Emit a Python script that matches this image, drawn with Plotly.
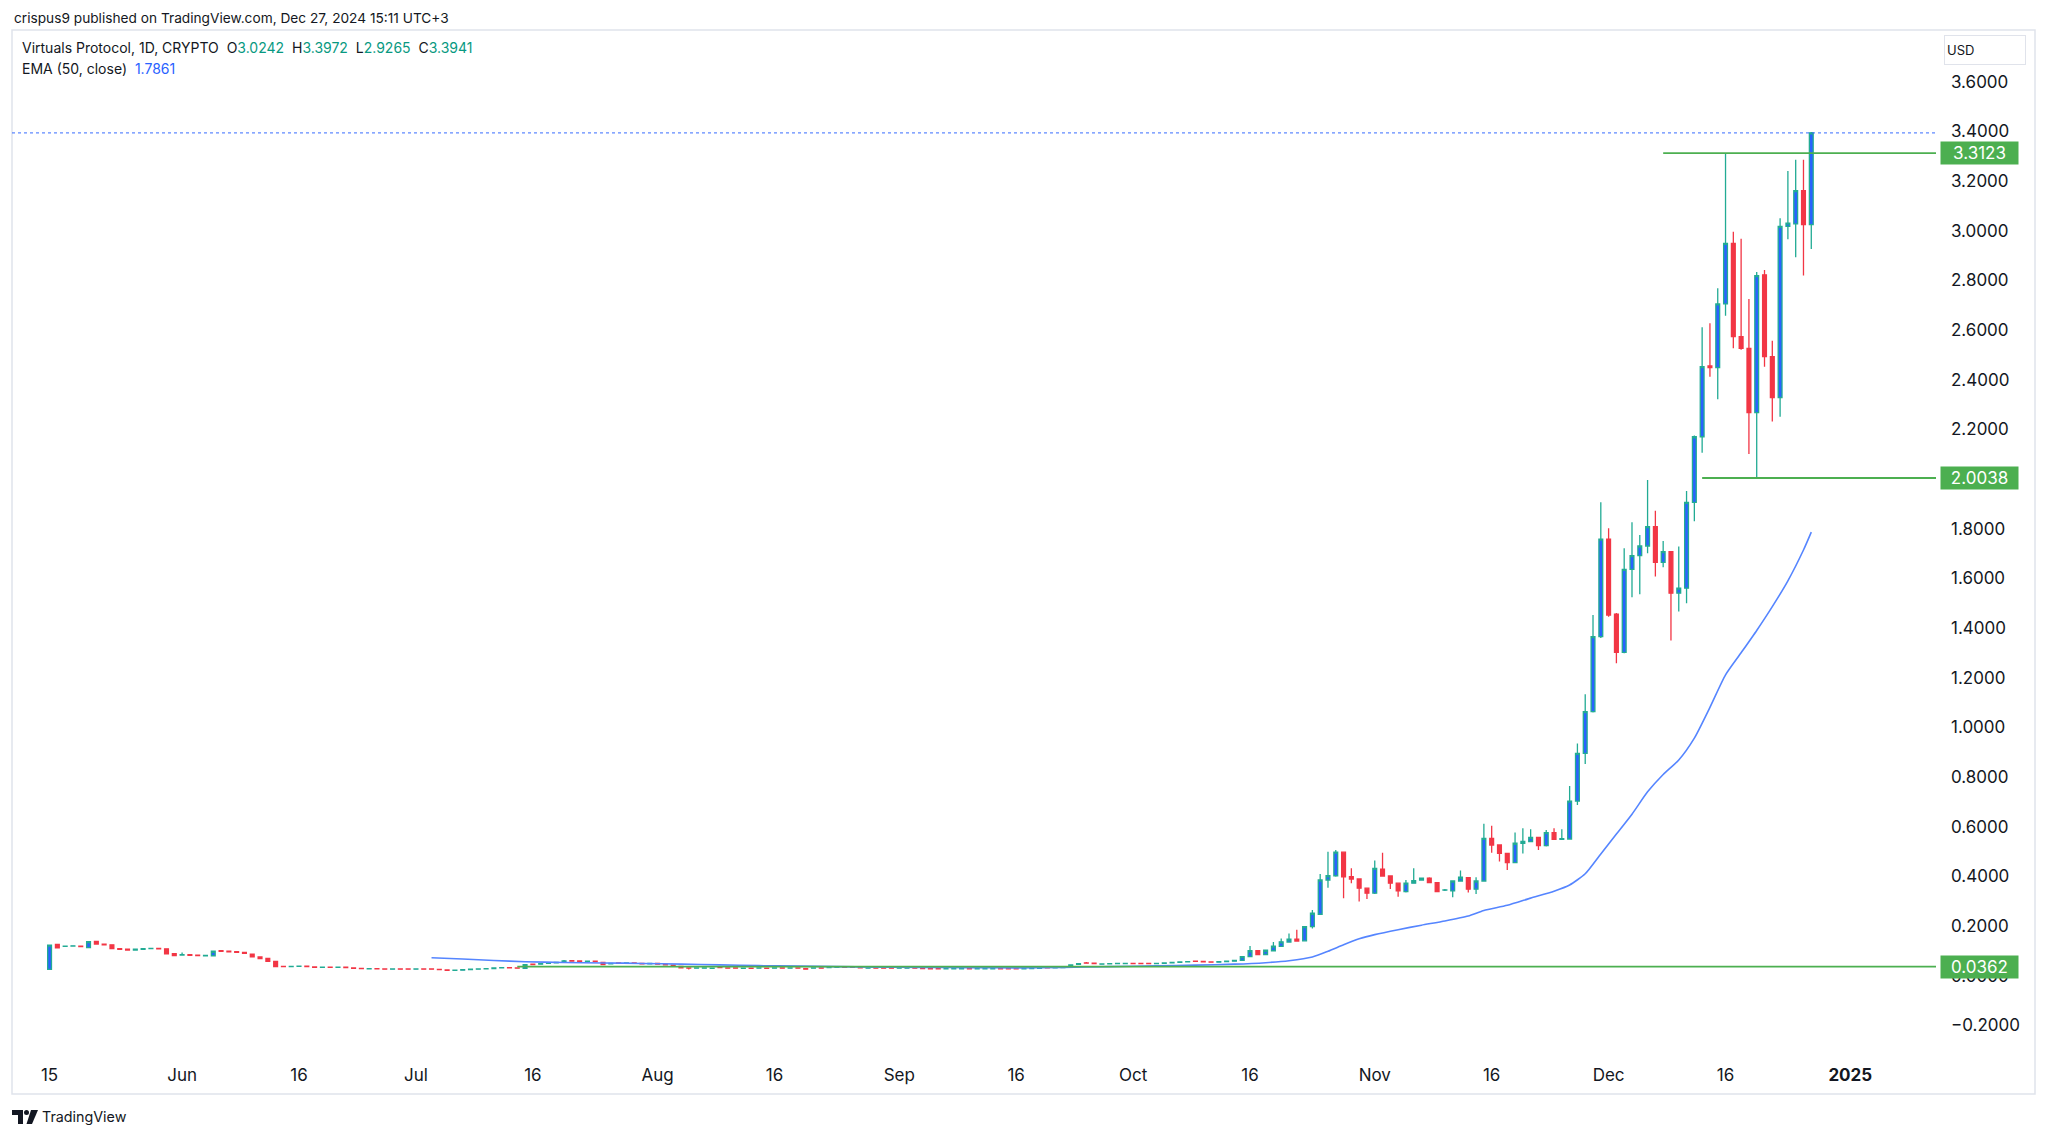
import pandas as pd
import plotly.graph_objects as go

W, H = 2048, 1136

# ---------------- data ----------------
start_date = "2024-05-15"

open_ = [
    .025, .126, .118, .119, .119, .113, .138, .127, .124, .109,
    .106, .103, .106, .109, .110, .108, .088, .083, .084, .082,
    .080, .080, .100, .098, .096, .093, .086, .075, .069, .057,
    .037, .036, .037, .038, .035, .033, .034, .033, .034, .031,
    .029, .027, .028, .027, .026, .027, .027, .026, .027, .027,
    .025, .023, .021, .022, .024, .026, .027, .028, .031, .032,
    .031, .029, .046, .046, .049, .051, .054, .060, .059, .057,
    .058, .053, .047, .051, .049, .051, .049, .047, .049, .046,
    .042, .037, .031, .030, .030, .029, .034, .031, .031, .029,
    .030, .030, .030, .030, .031, .030, .031, .028, .030, .031,
    .032, .033, .034, .034, .032, .030, .031, .031, .031, .030,
    .030, .031, .029, .028, .028, .027, .027, .027, .028, .027,
    .027, .027, .028, .028, .028, .027, .028, .029, .033, .031,
    .032, .035, .045, .051, .050, .046, .047, .048, .048, .049,
    .049, .049, .048, .049, .051, .053, .055, .058, .057, .055,
    .054, .056, .058, .061, .076, .100, .085, .100, .118, .135,
    .147, .140, .197, .247, .385, .402, .497, .398, .389, .352,
    .332, .429, .401, .372, .338, .372, .385, .392, .374, .344,
    .341, .381, .394, .348, .381, .553, .526, .492, .455, .533,
    .540, .557, .523, .576, .549, .550, .703, .895, 1.063, 1.365,
    1.758, 1.456, 1.302, 1.636, 1.691, 1.730, 1.808, 1.664, 1.707, 1.540,
    1.560, 1.906, 2.170, 2.455, 2.448, 2.705, 2.949, 2.573, 2.526, 2.267,
    2.822, 2.493, 2.328, 3.017, 3.027, 3.161, 3.0242,
]
high = [
    .124, .127, .119, .120, .120, .138, .140, .128, .125, .110,
    .107, .108, .110, .111, .111, .109, .091, .093, .085, .083,
    .082, .099, .101, .099, .097, .094, .087, .076, .070, .058,
    .038, .038, .039, .039, .036, .035, .035, .035, .035, .032,
    .030, .029, .029, .028, .028, .028, .028, .028, .028, .028,
    .026, .024, .023, .025, .027, .028, .029, .032, .033, .033,
    .032, .045, .047, .049, .052, .054, .063, .061, .060, .059,
    .059, .054, .050, .052, .052, .052, .050, .050, .051, .047,
    .043, .038, .032, .032, .032, .031, .035, .032, .032, .031,
    .031, .032, .031, .032, .032, .032, .032, .029, .032, .032,
    .035, .035, .035, .035, .033, .032, .032, .032, .032, .032,
    .032, .032, .030, .029, .029, .029, .029, .029, .029, .029,
    .029, .029, .029, .029, .029, .029, .030, .031, .039, .033,
    .035, .044, .049, .055, .051, .048, .049, .050, .050, .050,
    .050, .050, .050, .052, .054, .056, .057, .059, .058, .056,
    .057, .059, .062, .078, .119, .102, .104, .135, .149, .170,
    .185, .199, .264, .409, .499, .506, .500, .432, .392, .355,
    .463, .495, .403, .374, .385, .432, .395, .396, .376, .349,
    .383, .423, .397, .396, .611, .603, .528, .494, .576, .593,
    .589, .559, .586, .593, .589, .764, .935, 1.133, 1.452, 1.906,
    1.801, 1.460, 1.721, 1.826, 1.774, 1.996, 1.872, 1.750, 1.710, 1.728,
    1.952, 2.175, 2.611, 2.627, 2.768, 3.3123, 2.996, 2.967, 2.725, 2.833,
    2.842, 2.557, 3.050, 3.240, 3.285, 3.285, 3.3972,
]
low = [
    .024, .111, .117, .118, .115, .112, .126, .123, .108, .105,
    .102, .102, .105, .108, .107, .087, .080, .082, .081, .080,
    .079, .079, .097, .095, .093, .089, .074, .067, .056, .035,
    .035, .035, .036, .035, .032, .032, .032, .032, .031, .028,
    .027, .026, .026, .025, .025, .025, .025, .025, .025, .025,
    .023, .020, .020, .021, .023, .025, .026, .027, .030, .030,
    .029, .027, .043, .045, .048, .050, .053, .057, .056, .056,
    .055, .043, .046, .048, .048, .048, .046, .046, .045, .042,
    .039, .030, .025, .029, .029, .028, .031, .029, .029, .028,
    .028, .029, .028, .029, .029, .029, .029, .025, .029, .029,
    .031, .032, .032, .032, .030, .029, .029, .029, .029, .029,
    .029, .029, .027, .026, .026, .026, .026, .026, .026, .026,
    .026, .026, .026, .026, .026, .026, .027, .028, .030, .030,
    .031, .034, .044, .049, .047, .045, .046, .047, .047, .047,
    .047, .047, .047, .048, .050, .052, .054, .056, .054, .053,
    .053, .055, .057, .060, .075, .084, .084, .099, .117, .134,
    .138, .138, .190, .245, .354, .398, .311, .372, .298, .308,
    .329, .398, .349, .318, .335, .370, .383, .372, .336, .341,
    .315, .378, .335, .329, .379, .495, .459, .425, .452, .492,
    .537, .506, .520, .546, .547, .548, .687, .852, 1.060, 1.360,
    1.445, 1.258, 1.298, 1.524, 1.536, 1.701, 1.607, 1.644, 1.349, 1.466,
    1.499, 1.830, 2.106, 2.412, 2.321, 2.657, 2.526, 2.520, 2.101, 2.0038,
    2.452, 2.231, 2.251, 2.965, 2.893, 2.819, 2.9265,
]
close = [
    .123, .112, .119, .120, .117, .137, .127, .124, .109, .106,
    .103, .106, .109, .110, .108, .088, .081, .084, .082, .081,
    .081, .098, .098, .096, .094, .090, .075, .068, .057, .036,
    .036, .037, .038, .036, .033, .034, .033, .034, .032, .029,
    .028, .028, .027, .026, .027, .026, .026, .027, .026, .026,
    .024, .021, .022, .024, .026, .027, .028, .031, .032, .031,
    .030, .044, .044, .048, .051, .053, .059, .058, .057, .058,
    .056, .044, .049, .049, .051, .049, .047, .049, .046, .043,
    .040, .031, .030, .031, .031, .030, .032, .030, .030, .030,
    .029, .031, .029, .031, .030, .031, .030, .026, .031, .030,
    .034, .034, .033, .033, .031, .031, .030, .030, .030, .031,
    .031, .030, .028, .027, .027, .028, .028, .028, .027, .028,
    .028, .028, .027, .027, .027, .028, .029, .030, .031, .032,
    .034, .043, .048, .050, .048, .047, .048, .049, .049, .048,
    .048, .048, .049, .051, .053, .055, .056, .057, .055, .054,
    .056, .058, .061, .076, .100, .085, .102, .119, .136, .147,
    .139, .197, .251, .385, .402, .497, .398, .389, .352, .332,
    .432, .401, .372, .341, .372, .382, .392, .374, .338, .345,
    .381, .396, .348, .381, .553, .526, .492, .455, .533, .540,
    .557, .523, .576, .549, .551, .703, .895, 1.063, 1.365, 1.758,
    1.452, 1.302, 1.636, 1.691, 1.730, 1.808, 1.664, 1.707, 1.540, 1.560,
    1.906, 2.170, 2.452, 2.448, 2.705, 2.949, 2.573, 2.526, 2.267, 2.819,
    2.493, 2.328, 3.017, 3.030, 3.161, 3.024, 3.3941,
]

# EMA(50, close)
ema_dates = [
    "2024-07-03", "2024-07-07", "2024-07-11", "2024-07-15", "2024-07-20",
    "2024-07-25", "2024-07-30", "2024-08-04", "2024-08-09", "2024-08-14",
    "2024-08-19", "2024-08-24", "2024-08-29", "2024-09-04", "2024-09-10",
    "2024-09-16", "2024-09-22", "2024-09-28", "2024-10-04", "2024-10-09",
    "2024-10-14", "2024-10-18", "2024-10-21", "2024-10-24", "2024-10-26",
    "2024-10-28", "2024-10-30", "2024-11-01", "2024-11-04", "2024-11-07",
    "2024-11-10", "2024-11-13", "2024-11-15", "2024-11-18", "2024-11-21",
    "2024-11-24", "2024-11-26", "2024-11-28", "2024-11-30", "2024-12-02",
    "2024-12-04", "2024-12-06", "2024-12-08", "2024-12-10", "2024-12-12",
    "2024-12-14", "2024-12-16", "2024-12-18", "2024-12-20", "2024-12-22",
    "2024-12-24", "2024-12-26", "2024-12-27",
]
ema_values = [
    0.072, 0.067, 0.061, 0.056, 0.053,
    0.051, 0.049, 0.046, 0.043, 0.040,
    0.038, 0.036, 0.034, 0.033, 0.032,
    0.031, 0.033, 0.036, 0.039, 0.042,
    0.046, 0.052, 0.060, 0.075, 0.098,
    0.124, 0.148, 0.165, 0.185, 0.203,
    0.220, 0.240, 0.262, 0.283, 0.312,
    0.340, 0.365, 0.410, 0.490, 0.570,
    0.650, 0.740, 0.810, 0.868, 0.956,
    1.080, 1.211, 1.300, 1.390, 1.486,
    1.590, 1.714, 1.7861,
]

# drawn horizontal levels
level_values = [3.3123, 2.0038, 0.0362]
level_starts = ["2024-12-08", "2024-12-13", "2024-07-14"]

x_tick_dates = ["2024-05-15", "2024-06-01", "2024-06-16", "2024-07-01", "2024-07-16",
                "2024-08-01", "2024-08-16", "2024-09-01", "2024-09-16", "2024-10-01",
                "2024-10-16", "2024-11-01", "2024-11-16", "2024-12-01", "2024-12-16",
                "2025-01-01"]
x_tick_text = ["15", "Jun", "16", "Jul", "16", "Aug", "16", "Sep", "16", "Oct",
               "16", "Nov", "16", "Dec", "16", "<b>2025</b>"]
y_tick_vals = [-0.2, 0.0, 0.2, 0.4, 0.6, 0.8, 1.0, 1.2, 1.4, 1.6, 1.8,
               2.0, 2.2, 2.4, 2.6, 2.8, 3.0, 3.2, 3.4, 3.6]

x_range = ["2024-05-10 04:20", "2025-01-12 00:00"]
y_range = [-0.2795, 3.808]

dates = pd.date_range(start_date, periods=len(open_), freq="D")

# ---------------- styling ----------------
FONT = "Inter, Roboto, 'Noto Sans', sans-serif"
TXT = "#131722"
UP_LINE = "#22ab94"
UP_FILL = "#2962ff"
DOWN = "#f23645"
GREEN = "#4caf50"

# plot area in pixels
PL, PR, PT, PB = 12, 1936, 30, 1045


def px(x):
    return x / W


def py(y):
    return 1 - y / H


fig = go.Figure()

fig.add_trace(go.Candlestick(
    x=dates, open=open_, high=high, low=low, close=close,
    increasing=dict(line=dict(color=UP_LINE, width=1.3), fillcolor=UP_FILL),
    decreasing=dict(line=dict(color=DOWN, width=1.3), fillcolor=DOWN),
    whiskerwidth=0,
    showlegend=False,
    hoverinfo="skip",
))

fig.add_trace(go.Scatter(
    x=pd.to_datetime(ema_dates), y=ema_values, mode="lines",
    line=dict(color="#5585ff", width=1.6, shape="spline", smoothing=0.6),
    showlegend=False, hoverinfo="skip",
))

shapes = []
# chart pane border
shapes.append(dict(type="rect", xref="paper", yref="paper",
                   x0=px(12), x1=px(2035), y0=py(1094), y1=py(30),
                   line=dict(color="#e0e3eb", width=1.5), fillcolor="rgba(0,0,0,0)",
                   layer="below"))
# last price dotted line
shapes.append(dict(type="line", xref="x domain", yref="y", x0=0, x1=1,
                   y0=close[-1], y1=close[-1],
                   line=dict(color="rgba(41,98,255,0.75)", width=1.2, dash="dot")))
# drawn horizontal levels
for val, st in zip(level_values, level_starts):
    shapes.append(dict(type="line", xref="x", yref="y", x0=st, x1=x_range[1],
                       y0=val, y1=val, line=dict(color=GREEN, width=1.8)))

# TradingView logo glyph (footer)
shapes += [
    dict(type="rect", xref="paper", yref="paper", x0=px(12), x1=px(23), y0=py(1115), y1=py(1110),
         fillcolor=TXT, line=dict(width=0)),
    dict(type="rect", xref="paper", yref="paper", x0=px(18), x1=px(23), y0=py(1124), y1=py(1110),
         fillcolor=TXT, line=dict(width=0)),
    dict(type="circle", xref="paper", yref="paper", x0=px(24), x1=px(29), y0=py(1115), y1=py(1110),
         fillcolor=TXT, line=dict(width=0)),
    dict(type="path", xref="paper", yref="paper",
         path=f"M {px(31)} {py(1110)} L {px(38)} {py(1110)} L {px(32)} {py(1124)} L {px(26.5)} {py(1124)} Z",
         fillcolor=TXT, line=dict(width=0)),
]

annotations = []
annotations.append(dict(
    text="crispus9 published on TradingView.com, Dec 27, 2024 15:11 UTC+3",
    xref="paper", yref="paper", x=px(12), y=py(18), xanchor="left", yanchor="middle",
    showarrow=False, font=dict(family=FONT, size=13.7, color=TXT)))

teal = "#089981"
leg1 = ("Virtuals Protocol, 1D, CRYPTO&nbsp;&nbsp;"
        f"O<span style='color:{teal}'>{open_[-1]:.4f}</span>&nbsp;&nbsp;"
        f"H<span style='color:{teal}'>{high[-1]:.4f}</span>&nbsp;&nbsp;"
        f"L<span style='color:{teal}'>{low[-1]:.4f}</span>&nbsp;&nbsp;"
        f"C<span style='color:{teal}'>{close[-1]:.4f}</span>")
annotations.append(dict(text=leg1, xref="paper", yref="paper", x=px(20), y=py(48),
                        xanchor="left", yanchor="middle", showarrow=False,
                        font=dict(family=FONT, size=14, color=TXT)))
leg2 = f"EMA (50, close)&nbsp;&nbsp;<span style='color:#2962ff'>{ema_values[-1]:.4f}</span>"
annotations.append(dict(text=leg2, xref="paper", yref="paper", x=px(20), y=py(68),
                        xanchor="left", yanchor="middle", showarrow=False,
                        font=dict(family=FONT, size=14, color=TXT)))

# level price labels on the axis
for val in level_values:
    annotations.append(dict(text=f"{val:.4f}", xref="paper", yref="y",
                            x=px(1979.5), y=val, xanchor="center", yanchor="middle",
                            showarrow=False, width=77, height=22, bgcolor=GREEN,
                            borderpad=0, font=dict(family=FONT, size=17, color="white")))

# USD box
annotations.append(dict(text="USD", xref="paper", yref="paper", x=px(1985), y=py(49.6),
                        xanchor="center", yanchor="middle", showarrow=False,
                        width=76, height=24, align="left", bgcolor="white",
                        bordercolor="#e0e3eb", borderwidth=1, borderpad=2,
                        font=dict(family=FONT, size=13, color=TXT)))

# footer text
annotations.append(dict(text="TradingView", xref="paper", yref="paper", x=px(40), y=py(1117),
                        xanchor="left", yanchor="middle", showarrow=False,
                        font=dict(family=FONT, size=14.3, color=TXT)))

fig.update_layout(
    width=W, height=H,
    margin=dict(l=0, r=0, t=0, b=0),
    paper_bgcolor="white", plot_bgcolor="white",
    shapes=shapes, annotations=annotations,
    showlegend=False,
    hovermode=False,
    xaxis=dict(
        domain=[px(PL), px(PR)],
        type="date", range=x_range,
        rangeslider=dict(visible=False),
        showgrid=False, zeroline=False, showline=False,
        tickmode="array", tickvals=x_tick_dates, ticktext=x_tick_text,
        ticks="", ticklabelstandoff=18,
        tickfont=dict(family=FONT, size=17, color=TXT),
    ),
    yaxis=dict(
        domain=[py(PB), py(PT)],
        side="right", range=y_range,
        showgrid=False, zeroline=False, showline=False,
        tickmode="array", tickvals=y_tick_vals, tickformat=".4f",
        ticks="", ticklabelstandoff=14,
        tickfont=dict(family=FONT, size=17, color=TXT),
    ),
)

fig.write_html(
    "out.html",
    config={"displayModeBar": False},
    post_script="document.body.style.margin='0px';document.body.style.overflow='hidden';",
)
